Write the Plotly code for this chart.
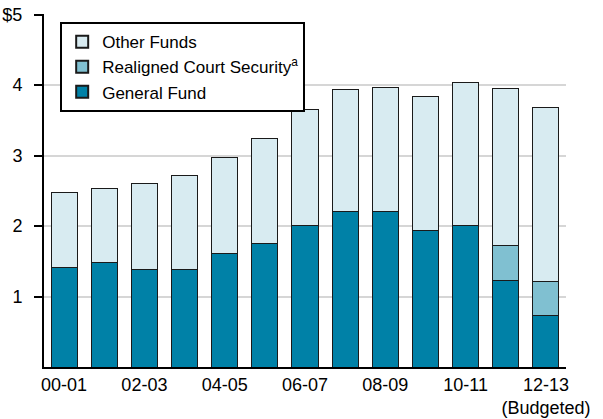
import plotly.graph_objects as go

years = ["00-01", "01-02", "02-03", "03-04", "04-05", "05-06", "06-07",
         "07-08", "08-09", "09-10", "10-11", "11-12", "12-13"]
general_fund = [1.41, 1.49, 1.38, 1.39, 1.61, 1.75, 2.01, 2.21, 2.21, 1.94, 2.01, 1.23, 0.73]
court_security = [0, 0, 0, 0, 0, 0, 0, 0, 0, 0, 0, 0.50, 0.49]
other_funds = [1.06, 1.04, 1.22, 1.33, 1.36, 1.49, 1.64, 1.73, 1.75, 1.90, 2.03, 2.22, 2.47]
tick_years = ["00-01", "02-03", "04-05", "06-07", "08-09", "10-11", "12-13"]
tick_text = ["00-01", "02-03", "04-05", "06-07", "08-09", "10-11", "12-13<br>(Budgeted)"]

outline = dict(color="#1a1a1a", width=1)

fig = go.Figure(data=[
    go.Bar(x=years, y=general_fund, name="General Fund",
           marker=dict(color="#0081a7", line=outline)),
    go.Bar(x=years, y=court_security, name="Realigned Court Security<sup>a</sup>",
           marker=dict(color="#80c0d1", line=outline)),
    go.Bar(x=years, y=other_funds, name="Other Funds",
           marker=dict(color="#d8ebf1", line=outline)),
])

fig.update_layout(
    barmode="stack",
    bargap=0.35,
    width=603,
    height=419,
    margin=dict(l=44, r=37, t=14, b=52),
    plot_bgcolor="white",
    paper_bgcolor="white",
    font=dict(family="Liberation Sans, Arial, sans-serif", size=18, color="black"),
    showlegend=True,
    legend=dict(
        traceorder="reversed",
        x=0.031, y=0.977, xanchor="left", yanchor="top",
        bgcolor="white", bordercolor="black", borderwidth=2,
        font=dict(size=17),
        itemsizing="constant",
        tracegroupgap=0,
    ),
)

# category type, otherwise "00-01" strings get read as dates
fig.update_xaxes(
    type="category",
    tickmode="array", tickvals=tick_years, ticktext=tick_text,
    showline=True, linecolor="black", linewidth=2,
    ticks="", showgrid=False, automargin=False,
)
fig.update_yaxes(
    range=[0, 5.01],
    tickmode="array", tickvals=[1, 2, 3, 4, 5], ticktext=["1", "2", "3", "4", "$5"],
    showline=True, linecolor="black", linewidth=2,
    ticks="outside", ticklen=8, tickwidth=2, tickcolor="black",
    ticklabelstandoff=8, ticklabeloverflow="allow",
    showgrid=True, gridcolor="#d6d6d6", gridwidth=2,
    zeroline=False, automargin=False,
)

# drop the default 8px body margin so the figure fills the window
fig.write_html("out.html", config={"displayModeBar": False},
               post_script="document.body.style.margin = '0';")
